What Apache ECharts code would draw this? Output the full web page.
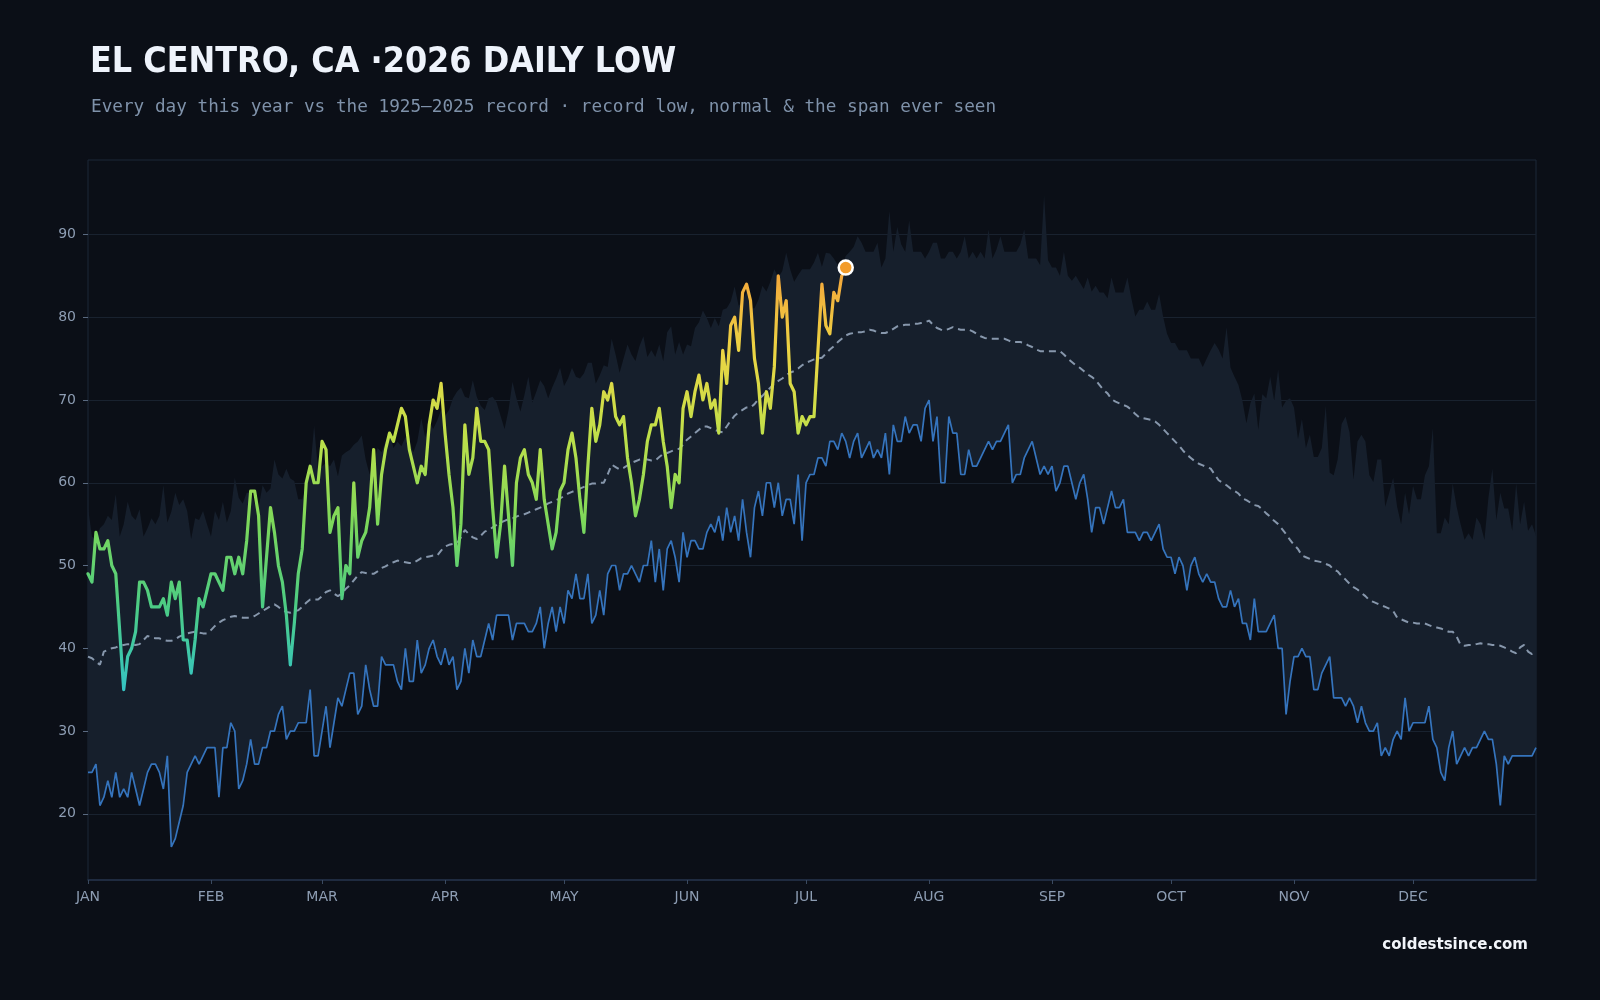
<!DOCTYPE html>
<html>
<head>
<meta charset="utf-8">
<title>El Centro daily low</title>
<script src="https://cdn.jsdelivr.net/npm/echarts@6/dist/echarts.min.js"></script>
<style>
  html, body { margin: 0; padding: 0; background: #0b0f17; }
  #chart { width: 1600px; height: 1000px; }
</style>
</head>
<body>
<div id="chart"></div>
<script>
// month ticks on the day-of-year axis
const monthStarts = [0, 31, 59, 90, 120, 151, 181, 212, 243, 273, 304, 334]
const monthNames = ['JAN', 'FEB', 'MAR', 'APR', 'MAY', 'JUN', 'JUL', 'AUG', 'SEP', 'OCT', 'NOV', 'DEC']
const yTicks = [20, 30, 40, 50, 60, 70, 80, 90]

// 2026 daily lows so far (Jan 1 -> Jul 11)
const thisYear = [
  49, 48, 54, 52, 52, 53, 50, 49, 42, 35,
  39, 40, 42, 48, 48, 47, 45, 45, 45, 46,
  44, 48, 46, 48, 41, 41, 37, 41, 46, 45,
  47, 49, 49, 48, 47, 51, 51, 49, 51, 49,
  53, 59, 59, 56, 45, 51, 57, 54, 50, 48,
  44, 38, 43, 49, 52, 60, 62, 60, 60, 65,
  64, 54, 56, 57, 46, 50, 49, 60, 51, 53,
  54, 57, 64, 55, 61, 64, 66, 65, 67, 69,
  68, 64, 62, 60, 62, 61, 67, 70, 69, 72,
  66, 61, 57, 50, 55, 67, 61, 63, 69, 65,
  65, 64, 57, 51, 55, 62, 56, 50, 60, 63,
  64, 61, 60, 58, 64, 58, 55, 52, 54, 59,
  60, 64, 66, 63, 58, 54, 62, 69, 65, 67,
  71, 70, 72, 68, 67, 68, 63, 60, 56, 58,
  61, 65, 67, 67, 69, 65, 62, 57, 61, 60,
  69, 71, 68, 71, 73, 70, 72, 69, 70, 66,
  76, 72, 79, 80, 76, 83, 84, 82, 75, 72,
  66, 71, 69, 74, 85, 80, 82, 72, 71, 66,
  68, 67, 68, 68, 76, 84, 79, 78, 83, 82,
  85, 86
]

// record low for each day, 1925-2025
const recordLow = [
  25, 25, 26, 21, 22, 24, 22, 25, 22, 23,
  22, 25, 23, 21, 23, 25, 26, 26, 25, 23,
  27, 16, 17, 19, 21, 25, 26, 27, 26, 27,
  28, 28, 28, 22, 28, 28, 31, 30, 23, 24,
  26, 29, 26, 26, 28, 28, 30, 30, 32, 33,
  29, 30, 30, 31, 31, 31, 35, 27, 27, 30,
  33, 28, 31, 34, 33, 35, 37, 37, 32, 33,
  38, 35, 33, 33, 39, 38, 38, 38, 36, 35,
  40, 36, 36, 41, 37, 38, 40, 41, 39, 38,
  40, 38, 39, 35, 36, 40, 37, 41, 39, 39,
  41, 43, 41, 44, 44, 44, 44, 41, 43, 43,
  43, 42, 42, 43, 45, 40, 43, 45, 42, 45,
  43, 47, 46, 49, 46, 46, 49, 43, 44, 47,
  44, 49, 50, 50, 47, 49, 49, 50, 49, 48,
  50, 50, 53, 48, 52, 47, 52, 53, 51, 48,
  54, 51, 53, 53, 52, 52, 54, 55, 54, 56,
  53, 57, 54, 56, 53, 58, 54, 51, 57, 59,
  56, 60, 60, 57, 60, 56, 58, 58, 55, 61,
  53, 60, 61, 61, 63, 63, 62, 65, 65, 64,
  66, 65, 63, 65, 66, 63, 64, 65, 63, 64,
  63, 66, 61, 67, 65, 65, 68, 66, 67, 67,
  65, 69, 70, 65, 68, 60, 60, 68, 66, 66,
  61, 61, 64, 62, 62, 63, 64, 65, 64, 65,
  65, 66, 67, 60, 61, 61, 63, 64, 65, 63,
  61, 62, 61, 62, 59, 60, 62, 62, 60, 58,
  60, 61, 58, 54, 57, 57, 55, 57, 59, 57,
  57, 58, 54, 54, 54, 53, 54, 54, 53, 54,
  55, 52, 51, 51, 49, 51, 50, 47, 50, 51,
  49, 48, 49, 48, 48, 46, 45, 45, 47, 45,
  46, 43, 43, 41, 46, 42, 42, 42, 43, 44,
  40, 40, 32, 36, 39, 39, 40, 39, 39, 35,
  35, 37, 38, 39, 34, 34, 34, 33, 34, 33,
  31, 33, 31, 30, 30, 31, 27, 28, 27, 29,
  30, 29, 34, 30, 31, 31, 31, 31, 33, 29,
  28, 25, 24, 28, 30, 26, 27, 28, 27, 28,
  28, 29, 30, 29, 29, 26, 21, 27, 26, 27,
  27, 27, 27, 27, 27, 28
]

// highest daily low ever seen (top of the span)
const recordHigh = [
  57, 53.5, 53, 54.5, 55, 56, 55.5, 58.6, 53.5, 55,
  57.7, 56, 55.5, 56.8, 53.5, 54.5, 55.7, 55, 56, 59.7,
  55.2, 56.5, 58.8, 57.3, 58, 56.6, 53.2, 55.7, 55.5, 56.6,
  55, 53.5, 56.6, 55.5, 57.7, 55.2, 56.6, 60.6, 58.2, 57.5,
  58.8, 58.8, 57.5, 57, 59.7, 58.8, 59.3, 62.8, 61, 60.5,
  61.7, 60.5, 60.2, 58, 58, 59.5, 61.5, 66.9, 61.5, 62,
  62.4, 62, 62.8, 60.8, 63.3, 63.7, 64, 64.6, 65, 65.7,
  62.8, 61, 62.4, 64.2, 63.7, 65, 66, 64.2, 65, 64.4,
  65.5, 65, 63.7, 65, 67.8, 65.5, 67.5, 66.5, 67.5, 68.8,
  68.1, 68.8, 70.2, 71, 71.5, 70.4, 70.2, 72.4, 70.4, 69.3,
  68.8, 70.2, 70.4, 69.7, 68.1, 66.5, 68.8, 72.2, 70.2, 68.6,
  70.6, 72.8, 69.7, 71, 72.4, 71.7, 70.2, 71.5, 72.6, 73.9,
  71.7, 72.6, 73.9, 72.8, 72.6, 73.2, 74.5, 74.5, 72, 73,
  74.2, 74, 77.4, 75.5, 73.3, 75, 76.7, 75.5, 74.7, 76.5,
  77.7, 75.2, 76, 75.2, 76.7, 74.7, 78.2, 78.9, 75.5, 77,
  75.5, 76.7, 76.5, 78.7, 79.4, 80.8, 79.9, 78.7, 79.9, 78.9,
  80.9, 81.1, 81.9, 83.7, 81.4, 81.9, 83.1, 81.1, 81.1, 82.1,
  83.8, 83.1, 84.3, 85.8, 84.8, 85.6, 87.8, 85.8, 84.3, 85.1,
  85.8, 85.8, 85.8, 86.6, 87.8, 86.1, 87.8, 87.7, 87.1, 86.3,
  86, 87.4, 87.9, 88.5, 89.8, 89, 87.9, 87.9, 87.9, 89,
  86, 87.1, 92.8, 87.9, 90.9, 88.8, 87.9, 91.7, 87.9, 87.9,
  87.9, 87.1, 87.9, 89, 89, 87.1, 87.1, 87.9, 87.9, 87.1,
  87.9, 89.8, 87.1, 87.9, 87.1, 87.9, 87.1, 90.6, 87.1, 88.2,
  89.8, 87.9, 87.9, 87.9, 87.9, 88.8, 90.6, 87.1, 87.1, 87.1,
  86.3, 94.7, 86.9, 86, 86, 85, 87.9, 85, 84.4, 85,
  84.2, 83.4, 84.8, 83.1, 83.8, 83, 83, 82.3, 84.8, 83,
  83, 83, 84.8, 82.3, 80.1, 80.9, 80.9, 81.9, 80.9, 80.9,
  82.8, 80.1, 78, 76.9, 76.9, 76, 76, 76, 75, 75,
  75, 74, 75, 76, 76.9, 76.1, 75, 78.8, 73.9, 72.8,
  71.8, 69.9, 67.2, 69.6, 70.8, 66.4, 70.7, 70.2, 72.8, 69.9,
  73.7, 69.1, 69.9, 70.2, 69.1, 65.3, 67.7, 64.2, 65.8, 63.1,
  63.1, 64.2, 69.3, 61.2, 60.9, 62.8, 67.1, 68, 66.1, 60.4,
  65, 65.8, 65, 60.9, 60.1, 62.8, 62.8, 57.1, 58.8, 60.6,
  57.1, 55, 58.8, 56.2, 59.6, 58, 58, 60.9, 62, 66.6,
  53.9, 53.9, 55.8, 55, 59.9, 57.1, 55, 53.1, 53.9, 53.1,
  55.8, 55, 53.1, 58.2, 61.7, 55.5, 58.8, 56.9, 56.9, 54.2,
  59.9, 55, 57.7, 54.2, 55, 53.6
]

// normal daily low
const normal = [
  39.0, 38.8, 38.4, 38.0, 39.6, 39.8, 40.0, 40.1, 40.3, 40.4,
  40.5, 40.5, 40.4, 40.5, 41.0, 41.5, 41.3, 41.2, 41.2, 41.0,
  40.9, 40.9, 41.1, 41.4, 41.6, 41.8, 41.9, 42.0, 41.9, 41.8,
  41.8, 42.2, 42.7, 43.1, 43.4, 43.6, 43.8, 43.9, 43.8, 43.7,
  43.7, 43.7, 43.9, 44.2, 44.5, 44.8, 45.1, 45.3, 45.0, 44.6,
  44.4, 44.3, 44.5, 44.6, 45.0, 45.5, 45.9, 45.9, 45.9, 46.3,
  46.8, 47.0, 46.6, 46.3, 46.6, 47.2, 47.6, 48.2, 48.8, 49.2,
  49.1, 49.0, 49.0, 49.3, 49.7, 49.9, 50.2, 50.4, 50.6, 50.5,
  50.4, 50.3, 50.3, 50.6, 50.9, 51.0, 51.1, 51.2, 51.2, 51.8,
  52.3, 52.5, 52.6, 52.7, 53.4, 54.3, 53.8, 53.4, 53.2, 53.6,
  54.1, 54.3, 54.6, 54.9, 55.2, 55.4, 55.6, 55.7, 55.9, 56.1,
  56.2, 56.4, 56.6, 56.8, 57.0, 57.2, 57.5, 57.7, 57.9, 58.1,
  58.4, 58.7, 58.9, 59.1, 59.3, 59.5, 59.7, 59.9, 59.9, 60.0,
  60.0, 61.0, 62.2, 61.9, 61.6, 61.8, 62.1, 62.4, 62.6, 62.8,
  62.9, 62.8, 62.7, 62.7, 63.1, 63.5, 63.6, 63.8, 64.0, 64.1,
  64.6, 65.2, 65.6, 66.0, 66.4, 66.8, 66.8, 66.6, 66.4, 66.2,
  66.1, 66.8, 67.5, 68.1, 68.5, 68.8, 69.1, 69.1, 69.5, 70.1,
  70.5, 71.0, 71.5, 72.0, 72.3, 72.6, 73.0, 73.3, 73.5, 73.8,
  74.2, 74.5, 74.7, 74.9, 75.0, 75.1, 75.6, 76.1, 76.5, 77.0,
  77.4, 77.8, 78.0, 78.1, 78.2, 78.2, 78.3, 78.5, 78.4, 78.2,
  78.1, 78.1, 78.3, 78.6, 78.9, 79.0, 79.1, 79.1, 79.2, 79.2,
  79.3, 79.4, 79.6, 79.1, 78.7, 78.5, 78.4, 78.6, 78.8, 78.6,
  78.5, 78.5, 78.5, 78.3, 78.0, 77.7, 77.5, 77.4, 77.4, 77.4,
  77.4, 77.4, 77.2, 77.0, 77.0, 77.0, 76.9, 76.6, 76.4, 76.1,
  75.9, 75.9, 75.9, 75.9, 75.9, 75.9, 75.5, 75.0, 74.6, 74.2,
  73.9, 73.5, 73.1, 72.8, 72.4, 71.8, 71.2, 70.8, 70.1, 69.8,
  69.6, 69.4, 69.2, 68.8, 68.3, 67.9, 67.8, 67.7, 67.6, 67.4,
  67.0, 66.5, 66.0, 65.5, 65.0, 64.5, 63.9, 63.4, 63.0, 62.6,
  62.3, 62.1, 61.9, 61.7, 61.0, 60.3, 60.0, 59.7, 59.3, 59.0,
  58.7, 58.1, 57.9, 57.6, 57.3, 57.2, 56.8, 56.3, 55.9, 55.4,
  55.0, 54.4, 53.8, 53.1, 52.5, 52.0, 51.2, 51.0, 50.8, 50.6,
  50.5, 50.4, 50.2, 50.0, 49.5, 49.3, 48.7, 48.3, 47.8, 47.4,
  47.1, 46.7, 46.3, 45.8, 45.6, 45.4, 45.2, 45.0, 44.8, 44.5,
  43.7, 43.5, 43.3, 43.1, 43.1, 43.0, 43.0, 43.0, 42.8, 42.6,
  42.5, 42.4, 42.2, 42.0, 42.0, 41.4, 40.4, 40.3, 40.4, 40.4,
  40.5, 40.6, 40.5, 40.5, 40.4, 40.4, 40.3, 40.1, 39.9, 39.6,
  39.4, 40.1, 40.4, 39.6, 39.3, 39.6
]

const chartDom = document.getElementById('chart')
const myChart = echarts.init(chartDom, null, { renderer: 'canvas' })

// day-of-year categories 0..365
const days = recordLow.map((v, i) => String(i))
const lastIdx = thisYear.length - 1
const isMonthStart = idx => monthStarts.indexOf(idx) >= 0

const option = {
  backgroundColor: '#0b0f17',
  animation: false,
  title: [{
    text: 'EL CENTRO, CA ·2026 DAILY LOW',
    left: 85,
    top: 40,
    textStyle: {
      color: '#eef3fb',
      fontSize: 35.5,
      fontWeight: 'bold',
      fontFamily: "'DejaVu Sans Condensed', 'Liberation Sans Narrow', sans-serif"
    }
  }, {
    text: 'Every day this year vs the 1925–2025 record · record low, normal & the span ever seen',
    left: 86,
    top: 93,
    textStyle: {
      color: '#7f92aa',
      fontSize: 17.7,
      fontWeight: 'normal',
      fontFamily: "'DejaVu Sans Mono', monospace"
    }
  }],
  graphic: [{
    type: 'text',
    right: 72,
    top: 938,
    style: {
      text: 'coldestsince.com',
      fill: '#f2f5fa',
      font: "bold 15px 'DejaVu Sans', sans-serif"
    }
  }],
  grid: {
    left: 88,
    right: 64,
    top: 160,
    bottom: 120,
    show: true,
    borderColor: '#1c2838',
    borderWidth: 1
  },
  xAxis: {
    type: 'category',
    data: days,
    boundaryGap: false,
    axisLine: { show: true, lineStyle: { color: '#24324a', width: 1.5 } },
    axisTick: {
      show: true,
      length: 4,
      interval: idx => isMonthStart(idx),
      lineStyle: { color: '#3a4a60' }
    },
    splitLine: { show: false },
    axisLabel: {
      interval: idx => isMonthStart(idx),
      formatter: v => monthNames[monthStarts.indexOf(Number(v))] || '',
      color: '#8d9db3',
      fontSize: 14,
      margin: 10,
      fontFamily: "'DejaVu Sans', sans-serif"
    }
  },
  yAxis: {
    type: 'value',
    min: 12,
    max: 99,
    axisLine: { show: false },
    axisTick: { show: true, length: 5, customValues: yTicks, lineStyle: { color: '#5a6a80' } },
    splitLine: { show: false },
    axisLabel: {
      customValues: yTicks,
      color: '#8d9db3',
      fontSize: 14,
      margin: 12,
      fontFamily: "'DejaVu Sans', sans-serif"
    }
  },
  visualMap: {
    show: false,
    type: 'continuous',
    seriesIndex: 4,
    dimension: 1,
    min: 35,
    max: 86,
    inRange: {
      color: ['#35c4c4', '#4ccc84', '#7dd85a', '#bfe04a', '#ecd544', '#f4a33a']
    }
  },
  series: [
    {
      // base of the span band, also carries the gridlines
      name: 'base',
      type: 'line',
      data: recordLow,
      stack: 'span',
      symbol: 'none',
      silent: true,
      lineStyle: { opacity: 0 },
      z: 1,
      markLine: {
        silent: true,
        symbol: ['none', 'none'],
        z: 1,
        label: { show: false },
        lineStyle: { color: '#19222f', width: 1, type: 'solid' },
        data: yTicks.map(v => ({ yAxis: v }))
      }
    },
    {
      name: 'span',
      type: 'line',
      data: recordHigh.map((v, i) => +(v - recordLow[i]).toFixed(1)),
      stack: 'span',
      symbol: 'none',
      silent: true,
      lineStyle: { opacity: 0 },
      areaStyle: { color: '#161f2c', opacity: 1 },
      z: 2
    },
    {
      name: 'record low',
      type: 'line',
      data: recordLow,
      symbol: 'none',
      lineStyle: { color: '#3574bd', width: 1.7 },
      z: 3
    },
    {
      name: 'normal',
      type: 'line',
      data: normal,
      symbol: 'none',
      lineStyle: { color: '#8797ac', width: 2, type: [7, 5] },
      z: 4
    },
    {
      name: '2026',
      type: 'line',
      data: thisYear,
      symbol: 'none',
      lineStyle: { width: 3.2, cap: 'round', join: 'round' },
      z: 5
    },
    {
      name: 'latest',
      type: 'scatter',
      data: [[lastIdx, thisYear[lastIdx]]],
      symbolSize: 14,
      itemStyle: { color: '#f39c2b', borderColor: '#ffffff', borderWidth: 2.5, opacity: 1 },
      emphasis: { disabled: true },
      z: 6
    }
  ]
}

myChart.setOption(option)
</script>
</body>
</html>
